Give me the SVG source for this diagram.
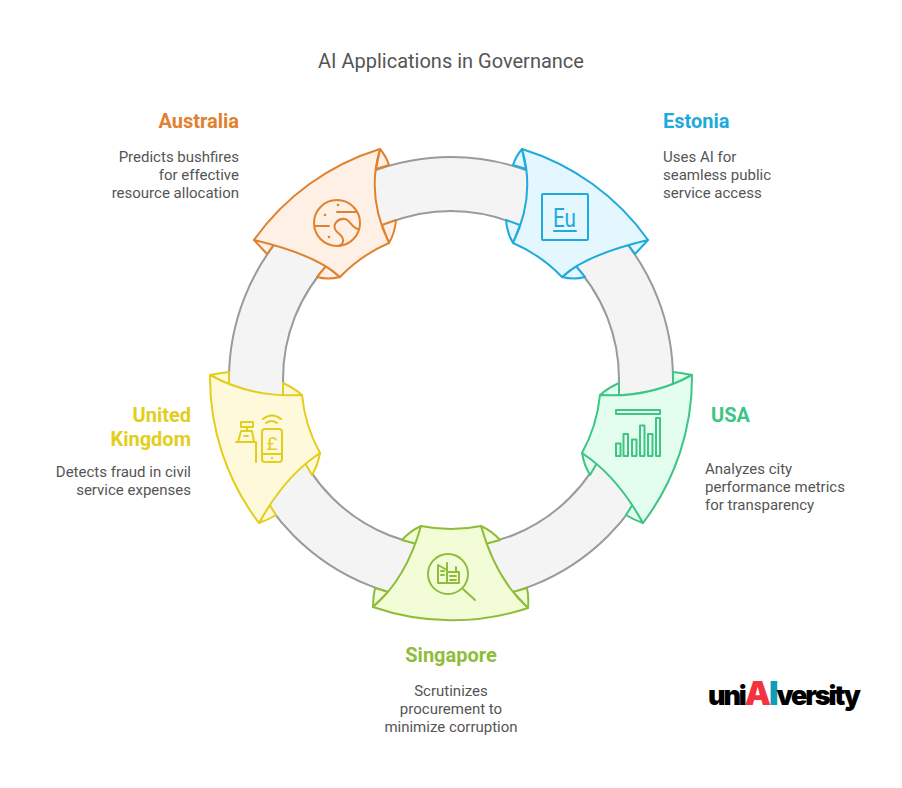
<svg xmlns="http://www.w3.org/2000/svg" width="902" height="788" viewBox="0 0 902 788">
<style>
text{font-family:Roboto,"Liberation Sans",sans-serif}
.t{font-size:20px;fill:#555;text-anchor:middle}
.h{font-size:20px;font-weight:700}
.b{font-size:15px;fill:#555}
.e{text-anchor:end}
.m{text-anchor:middle}
.s{stroke-width:2;stroke-linejoin:round;stroke-linecap:round}
.i{fill:none;stroke-width:2;stroke-linecap:round;stroke-linejoin:round}
.o{stroke:#E0812F}.oc{fill:#FEF0E5}.ot{fill:#E0812F}
.u{stroke:#1FA9DC}.uc{fill:#E5F7FE}.ut{fill:#1FA9DC}
.g{stroke:#3CC583}.gc{fill:#E3FDEE}.gt{fill:#3CC583}
.l{stroke:#8FBC3A}.lc{fill:#F2FDD8}.lt{fill:#8FBC3A}
.y{stroke:#E3CE1C}.yc{fill:#FEF9DA}.yt{fill:#E3CE1C}
.logo{font-family:Inter,"Liberation Sans",sans-serif;font-weight:900;font-size:27px;fill:#000;letter-spacing:-2.1px}
</style>
<rect width="902" height="788" fill="#fff"/>
<text class="t" x="451" y="68">AI Applications in Governance</text>
<g id="connectors">
<path d="M451 157A222 222 0 1 1 451 601A222 222 0 1 1 451 157ZM451 211A168 168 0 1 0 451 547A168 168 0 1 0 451 211Z" fill="#F4F4F4" fill-rule="evenodd"/>
<circle cx="451" cy="379" r="222" fill="none" stroke="#9A9A9A" stroke-width="2"/>
<circle cx="451" cy="379" r="168" fill="none" stroke="#9A9A9A" stroke-width="2"/>
</g>
<g id="australia">
<path class="s o oc" d="M380 149Q386 156 389 165L376 169ZM382 225L396 220Q395 233 389 243ZM254 240L267 254L275 243ZM340 277Q328 280 317 277L326 266Z"/>
<path class="s o oc" d="M380 149A241 241 0 0 0 254 240Q317 255 340 277A150 150 0 0 1 389 243Q366 196 380 149Z"/>
<circle class="i o" cx="337" cy="223" r="23"/>
<path class="i o" d="M337 212H356M315 226H329M358 229C352 228 350 220 345 219C338 218 333 224 335 229C337 234 344 235 343 241C343 243 341 245 339 246"/>
<circle class="ot" cx="338" cy="205" r="1.300"/><circle class="ot" cx="325" cy="215" r="1.300"/><circle class="ot" cx="329" cy="237" r="1.300"/>
<text class="h e ot" x="239" y="128">Australia</text>
<text class="b e" x="239" y="162">Predicts bushfires</text>
<text class="b e" x="239" y="180">for effective</text>
<text class="b e" x="239" y="198">resource allocation</text>
</g>
<g id="estonia">
<path class="s u uc" d="M522 149Q516 156 513 165L526 169ZM520 225L506 220Q507 233 513 243ZM648 240L635 254L627 243ZM562 277Q574 280 585 277L576 266Z"/>
<path class="s u uc" d="M522 149A241 241 0 0 1 648 240Q585 255 562 277A150 150 0 0 0 513 243Q536 196 522 149Z"/>
<rect class="i u" x="542" y="194" width="46" height="46" rx="1"/>
<text class="ut" x="553" y="227" font-size="26" font-weight="400" textLength="23" lengthAdjust="spacingAndGlyphs">Eu</text>
<path class="i u" d="M554 231H576"/>
<text class="h ut" x="663" y="128">Estonia</text>
<text class="b" x="663" y="162">Uses AI for</text>
<text class="b" x="663" y="180">seamless public</text>
<text class="b" x="663" y="198">service access</text>
</g>
<g id="usa">
<path class="s g gc" d="M692 375Q682 373 673 372L673 385ZM600 395Q608 388 619 383L619 397ZM582 453Q584 465 590 475L597 463ZM643 523Q634 520 626 515L633 504Z"/>
<path class="s g gc" d="M692 375A241 241 0 0 1 643 523Q617 476 582 453A150 150 0 0 0 600 395Q650 398 692 375Z"/>
<path class="i g" d="M616 410H660V414H616ZM616 443.500H620.500V456H616ZM623.500 434H628V456H623.500ZM632 439.500H636.500V456H632ZM640 425.500H644.500V456H640ZM648 434H652.500V456H648ZM656 418H660V456H656Z"/>
<text class="h gt" x="711" y="422">USA</text>
<text class="b" x="705" y="474">Analyzes city</text>
<text class="b" x="705" y="474" dy="0" transform="translate(0 18)">performance metrics</text>
<text class="b" x="705" y="510">for transparency</text>
</g>
<g id="singapore">
<path class="s l lc" d="M421 526Q410 531 402 540L417 544ZM481 526Q492 531 500 540L485 544ZM373 607Q373 597 375 588L388 592ZM528 608Q529 597 527 588L513 592Z"/>
<path class="s l lc" d="M373 607A241 241 0 0 0 528 608Q496 579 481 526A150 150 0 0 1 421 526Q406 579 373 607Z"/>
<circle class="i l" cx="448" cy="574" r="20"/>
<path class="i l" d="M463 589L475 600M438 565L447 570M447 563V583M438 565V583H459V572H447M456 567V572M441 571H444M441 575H444M450 576H456M450 580H456"/>
<text class="h m lt" x="451" y="662">Singapore</text>
<text class="b m" x="451" y="696">Scrutinizes</text>
<text class="b m" x="451" y="714">procurement to</text>
<text class="b m" x="451" y="732">minimize corruption</text>
</g>
<g id="united-kingdom">
<path class="s y yc" d="M210 375Q220 373 229 372L229 385ZM302 395Q294 388 283 383L283 397ZM320 453Q318 465 312 475L305 463ZM259 523Q268 520 276 515L269 504Z"/>
<path class="s y yc" d="M210 375A241 241 0 0 0 259 523Q285 476 320 453A150 150 0 0 1 302 395Q252 398 210 375Z"/>
<rect class="i y" x="262" y="429" width="20" height="33" rx="3"/>
<path class="i y" d="M262 454H282M263 419Q272 412 281 419M266 423Q272 419 277 423M241 422H253V427H241ZM247 427V431M241 431H252L254 442H238ZM236 442H256V462M244 436H248"/>
<circle class="yt" cx="272" cy="458" r="1.200"/>
<text class="yt m" x="272" y="450" font-size="19" font-weight="400">£</text>
<text class="h e yt" x="191" y="422">United</text>
<text class="h e yt" x="191" y="446">Kingdom</text>
<text class="b e" x="191" y="477">Detects fraud in civil</text>
<text class="b e" x="191" y="495">service expenses</text>
</g>
<g id="logo">
<text class="logo" x="708" y="705">uni<tspan font-size="33" fill="#F5333F">A</tspan><tspan font-size="33" fill="#0E9DB4">I</tspan>versity</text>
</g>
</svg>
